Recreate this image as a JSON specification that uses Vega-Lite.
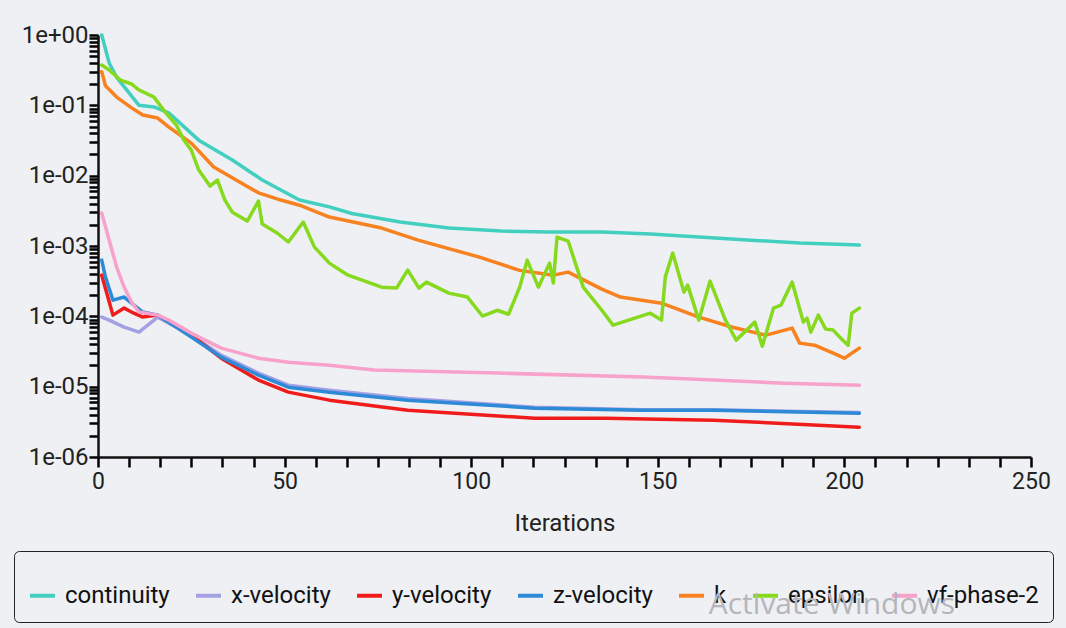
{
  "$schema": "https://vega.github.io/schema/vega-lite/v6.json",
  "width": 933,
  "height": 422,
  "autosize": {"type": "none"},
  "padding": {"left": 98, "top": 35, "right": 35, "bottom": 171},
  "background": "#eef0f4",
  "config": {"view": {"stroke": null}, "font": "Roboto"},
  "title": {"text": "Activate Windows", "orient": "bottom", "anchor": "end", "frame": "group", "color": "#b4b6bb", "fontSize": 30, "fontWeight": "normal", "font": "Open Sans", "dx": -76, "dy": -37},
  "datasets": {
    "res": [
      {"series":"continuity","iter":1,"value":1.0},{"series":"continuity","iter":3,"value":0.40},{"series":"continuity","iter":5,"value":0.25},{"series":"continuity","iter":11,"value":0.10},{"series":"continuity","iter":15,"value":0.095},{"series":"continuity","iter":19,"value":0.078},{"series":"continuity","iter":27,"value":0.032},{"series":"continuity","iter":36,"value":0.0167},{"series":"continuity","iter":44,"value":0.0087},{"series":"continuity","iter":54,"value":0.0045},{"series":"continuity","iter":62,"value":0.0036},{"series":"continuity","iter":68,"value":0.0029},{"series":"continuity","iter":81,"value":0.0022},{"series":"continuity","iter":94,"value":0.0018},{"series":"continuity","iter":108,"value":0.00163},{"series":"continuity","iter":121,"value":0.00158},{"series":"continuity","iter":135,"value":0.00158},{"series":"continuity","iter":148,"value":0.00148},{"series":"continuity","iter":161,"value":0.00134},{"series":"continuity","iter":175,"value":0.00121},{"series":"continuity","iter":188,"value":0.0011},{"series":"continuity","iter":204,"value":0.00103},

      {"series":"x-velocity","iter":1,"value":0.0000975},{"series":"x-velocity","iter":3,"value":0.0000883},{"series":"x-velocity","iter":7,"value":0.0000702},{"series":"x-velocity","iter":11,"value":0.0000596},{"series":"x-velocity","iter":16,"value":0.0000975},{"series":"x-velocity","iter":25,"value":0.0000541},{"series":"x-velocity","iter":33,"value":0.0000281},{"series":"x-velocity","iter":43,"value":0.0000156},{"series":"x-velocity","iter":51,"value":0.0000105},{"series":"x-velocity","iter":62,"value":0.0000089},{"series":"x-velocity","iter":83,"value":0.0000068},{"series":"x-velocity","iter":117,"value":0.0000051},{"series":"x-velocity","iter":146,"value":0.0000047},{"series":"x-velocity","iter":165,"value":0.0000047},{"series":"x-velocity","iter":204,"value":0.0000043},

      {"series":"y-velocity","iter":1,"value":0.000385},{"series":"y-velocity","iter":4,"value":0.000104},{"series":"y-velocity","iter":7,"value":0.000131},{"series":"y-velocity","iter":9,"value":0.000115},{"series":"y-velocity","iter":12,"value":0.0000975},{"series":"y-velocity","iter":16,"value":0.000104},{"series":"y-velocity","iter":25,"value":0.0000541},{"series":"y-velocity","iter":33,"value":0.0000254},{"series":"y-velocity","iter":43,"value":0.0000124},{"series":"y-velocity","iter":51,"value":0.00000836},{"series":"y-velocity","iter":62,"value":0.00000643},{"series":"y-velocity","iter":83,"value":0.00000463},{"series":"y-velocity","iter":117,"value":0.00000356},{"series":"y-velocity","iter":136,"value":0.00000356},{"series":"y-velocity","iter":165,"value":0.00000334},{"series":"y-velocity","iter":204,"value":0.00000265},

      {"series":"z-velocity","iter":1,"value":0.00063},{"series":"z-velocity","iter":2,"value":0.000361},{"series":"z-velocity","iter":4,"value":0.00017},{"series":"z-velocity","iter":7,"value":0.000188},{"series":"z-velocity","iter":9,"value":0.000154},{"series":"z-velocity","iter":12,"value":0.000115},{"series":"z-velocity","iter":16,"value":0.000104},{"series":"z-velocity","iter":25,"value":0.0000506},{"series":"z-velocity","iter":33,"value":0.0000263},{"series":"z-velocity","iter":43,"value":0.0000146},{"series":"z-velocity","iter":51,"value":0.00000984},{"series":"z-velocity","iter":62,"value":0.00000836},{"series":"z-velocity","iter":83,"value":0.00000643},{"series":"z-velocity","iter":117,"value":0.00000495},{"series":"z-velocity","iter":146,"value":0.00000463},{"series":"z-velocity","iter":165,"value":0.00000463},{"series":"z-velocity","iter":204,"value":0.0000042},

      {"series":"k","iter":1,"value":0.30},{"series":"k","iter":2,"value":0.19},{"series":"k","iter":5,"value":0.131},{"series":"k","iter":9,"value":0.092},{"series":"k","iter":12,"value":0.073},{"series":"k","iter":16,"value":0.066},{"series":"k","iter":19,"value":0.049},{"series":"k","iter":25,"value":0.029},{"series":"k","iter":31,"value":0.0133},{"series":"k","iter":43,"value":0.0057},{"series":"k","iter":49,"value":0.0045},{"series":"k","iter":54,"value":0.0038},{"series":"k","iter":62,"value":0.00258},{"series":"k","iter":76,"value":0.0018},{"series":"k","iter":86,"value":0.0012},{"series":"k","iter":102,"value":0.0007},{"series":"k","iter":113,"value":0.00045},{"series":"k","iter":122,"value":0.000385},{"series":"k","iter":126,"value":0.000425},{"series":"k","iter":135,"value":0.000244},{"series":"k","iter":140,"value":0.000188},{"series":"k","iter":151,"value":0.000154},{"series":"k","iter":161,"value":0.0000975},{"series":"k","iter":170,"value":0.00007},{"series":"k","iter":179,"value":0.000054},{"series":"k","iter":186,"value":0.000068},{"series":"k","iter":188,"value":0.0000416},{"series":"k","iter":192,"value":0.0000389},{"series":"k","iter":197,"value":0.00003},{"series":"k","iter":200,"value":0.0000254},{"series":"k","iter":204,"value":0.0000353},

      {"series":"epsilon","iter":1,"value":0.374},{"series":"epsilon","iter":3,"value":0.318},{"series":"epsilon","iter":6,"value":0.229},{"series":"epsilon","iter":9,"value":0.201},{"series":"epsilon","iter":11,"value":0.165},{"series":"epsilon","iter":15,"value":0.131},{"series":"epsilon","iter":18,"value":0.08},{"series":"epsilon","iter":21,"value":0.0525},{"series":"epsilon","iter":23,"value":0.0321},{"series":"epsilon","iter":25,"value":0.0231},{"series":"epsilon","iter":27,"value":0.012},{"series":"epsilon","iter":30,"value":0.00711},{"series":"epsilon","iter":32,"value":0.00866},{"series":"epsilon","iter":34,"value":0.0045},{"series":"epsilon","iter":36,"value":0.00303},{"series":"epsilon","iter":40,"value":0.00226},{"series":"epsilon","iter":43,"value":0.00435},{"series":"epsilon","iter":44,"value":0.00205},{"series":"epsilon","iter":48,"value":0.00153},{"series":"epsilon","iter":51,"value":0.00114},{"series":"epsilon","iter":55,"value":0.00219},{"series":"epsilon","iter":58,"value":0.000964},{"series":"epsilon","iter":62,"value":0.000571},{"series":"epsilon","iter":67,"value":0.000385},{"series":"epsilon","iter":76,"value":0.00026},{"series":"epsilon","iter":80,"value":0.000252},{"series":"epsilon","iter":83,"value":0.000454},{"series":"epsilon","iter":86,"value":0.000252},{"series":"epsilon","iter":88,"value":0.000307},{"series":"epsilon","iter":94,"value":0.000214},{"series":"epsilon","iter":99,"value":0.000188},{"series":"epsilon","iter":103,"value":0.000101},{"series":"epsilon","iter":107,"value":0.000122},{"series":"epsilon","iter":110,"value":0.000107},{"series":"epsilon","iter":113,"value":0.00026},{"series":"epsilon","iter":115,"value":0.00063},{"series":"epsilon","iter":118,"value":0.00026},{"series":"epsilon","iter":121,"value":0.000571},{"series":"epsilon","iter":122,"value":0.000297},{"series":"epsilon","iter":123,"value":0.00134},{"series":"epsilon","iter":126,"value":0.00117},{"series":"epsilon","iter":130,"value":0.00026},{"series":"epsilon","iter":135,"value":0.000122},{"series":"epsilon","iter":138,"value":0.000075},{"series":"epsilon","iter":148,"value":0.000111},{"series":"epsilon","iter":151,"value":0.0000883},{"series":"epsilon","iter":152,"value":0.000361},{"series":"epsilon","iter":154,"value":0.000793},{"series":"epsilon","iter":157,"value":0.000221},{"series":"epsilon","iter":158,"value":0.000278},{"series":"epsilon","iter":161,"value":0.0000883},{"series":"epsilon","iter":164,"value":0.000317},{"series":"epsilon","iter":168,"value":0.0000912},{"series":"epsilon","iter":171,"value":0.0000459},{"series":"epsilon","iter":176,"value":0.0000827},{"series":"epsilon","iter":178,"value":0.0000377},{"series":"epsilon","iter":181,"value":0.000131},{"series":"epsilon","iter":183,"value":0.000144},{"series":"epsilon","iter":186,"value":0.000307},{"series":"epsilon","iter":189,"value":0.0000827},{"series":"epsilon","iter":190,"value":0.0000942},{"series":"epsilon","iter":191,"value":0.0000596},{"series":"epsilon","iter":193,"value":0.000104},{"series":"epsilon","iter":195,"value":0.0000658},{"series":"epsilon","iter":197,"value":0.0000637},{"series":"epsilon","iter":199,"value":0.000049},{"series":"epsilon","iter":201,"value":0.0000389},{"series":"epsilon","iter":202,"value":0.000111},{"series":"epsilon","iter":204,"value":0.000131},

      {"series":"vf-phase-2","iter":1,"value":0.00294},{"series":"vf-phase-2","iter":3,"value":0.00121},{"series":"vf-phase-2","iter":5,"value":0.000501},{"series":"vf-phase-2","iter":7,"value":0.00026},{"series":"vf-phase-2","iter":9,"value":0.000159},{"series":"vf-phase-2","iter":11,"value":0.000115},{"series":"vf-phase-2","iter":16,"value":0.000104},{"series":"vf-phase-2","iter":19,"value":0.0000883},{"series":"vf-phase-2","iter":25,"value":0.0000577},{"series":"vf-phase-2","iter":33,"value":0.0000353},{"series":"vf-phase-2","iter":43,"value":0.0000254},{"series":"vf-phase-2","iter":51,"value":0.0000223},{"series":"vf-phase-2","iter":62,"value":0.0000202},{"series":"vf-phase-2","iter":74,"value":0.0000172},{"series":"vf-phase-2","iter":107,"value":0.0000156},{"series":"vf-phase-2","iter":146,"value":0.0000137},{"series":"vf-phase-2","iter":165,"value":0.0000124},{"series":"vf-phase-2","iter":184,"value":0.0000112},{"series":"vf-phase-2","iter":204,"value":0.0000105}
    ]
  },
  "data": {"name": "res"},
  "mark": {"type": "line", "strokeWidth": 3.5, "strokeJoin": "round", "strokeCap": "round"},
  "encoding": {
    "x": {
      "field": "iter", "type": "quantitative",
      "scale": {"domain": [0, 250], "nice": false},
      "axis": {
        "title": "Iterations", "titleFont": "Roboto", "titleFontSize": 24, "titleFontWeight": "normal", "titleColor": "#222", "titlePadding": 18,
        "values": [0, 8.33333, 16.66667, 25, 33.33333, 41.66667, 50, 58.33333, 66.66667, 75, 83.33333, 91.66667, 100, 108.33333, 116.66667, 125, 133.33333, 141.66667, 150, 158.33333, 166.66667, 175, 183.33333, 191.66667, 200, 208.33333, 216.66667, 225, 233.33333, 241.66667, 250],
        "labelExpr": "abs(datum.value/50 - round(datum.value/50)) < 0.001 ? '' + round(datum.value) : ''",
        "labelOverlap": false, "labelFlush": false, "labelFontSize": 23, "labelColor": "#222", "labelPadding": 3,
        "domainColor": "#111", "domainWidth": 2.5,
        "ticks": true, "tickColor": "#000000", "tickWidth": 2.5, "tickSize": 10, "tickOpacity": 1,
        "grid": false
      }
    },
    "y": {
      "field": "value", "type": "quantitative",
      "scale": {"type": "log", "domain": [0.000001, 1], "nice": false},
      "axis": {
        "title": null,
        "values": [0.000001, 0.000002, 0.000003, 0.000004, 0.000005, 0.000006, 0.000007, 0.000008, 0.000009, 0.00001, 0.00002, 0.00003, 0.00004, 0.00005, 0.00006, 0.00007, 0.00008, 0.00009, 0.0001, 0.0002, 0.0003, 0.0004, 0.0005, 0.0006, 0.0007, 0.0008, 0.0009, 0.001, 0.002, 0.003, 0.004, 0.005, 0.006, 0.007, 0.008, 0.009, 0.01, 0.02, 0.03, 0.04, 0.05, 0.06, 0.07, 0.08, 0.09, 0.1, 0.2, 0.3, 0.4, 0.5, 0.6, 0.7, 0.8, 0.9, 1],
        "labelExpr": "abs(log(datum.value)/LN10 - round(log(datum.value)/LN10)) < 0.001 ? (datum.value > 0.99 ? '1e+00' : '1e-0' + round(-log(datum.value)/LN10)) : ''",
        "labelOverlap": false, "labelFlush": false, "labelFontSize": 24, "labelColor": "#222", "labelPadding": 1,
        "domainColor": "#111", "domainWidth": 2.5,
        "ticks": true, "tickColor": "#000000", "tickWidth": 2.5, "tickSize": 9, "tickOpacity": 1,
        "grid": false
      }
    },
    "color": {
      "field": "series", "type": "nominal",
      "scale": {
        "domain": ["continuity", "x-velocity", "y-velocity", "z-velocity", "k", "epsilon", "vf-phase-2"],
        "range": ["#42cfbf", "#a4a0e4", "#f01c1c", "#2d8ad6", "#f7821f", "#86d91c", "#f7a1cb"]
      },
      "legend": {
        "orient": "none", "legendX": -84, "legendY": 516, "direction": "horizontal", "columns": 7,
        "title": " ", "titleFontSize": 12, "titlePadding": 4,
        "symbolType": "stroke", "symbolStrokeWidth": 4, "symbolSize": 625,
        "labelFontSize": 24, "labelColor": "#111", "labelOffset": 8, "labelLimit": 300,
        "columnPadding": 18, "padding": 14,
        "strokeColor": "#222", "cornerRadius": 5
      }
    }
  }
}
